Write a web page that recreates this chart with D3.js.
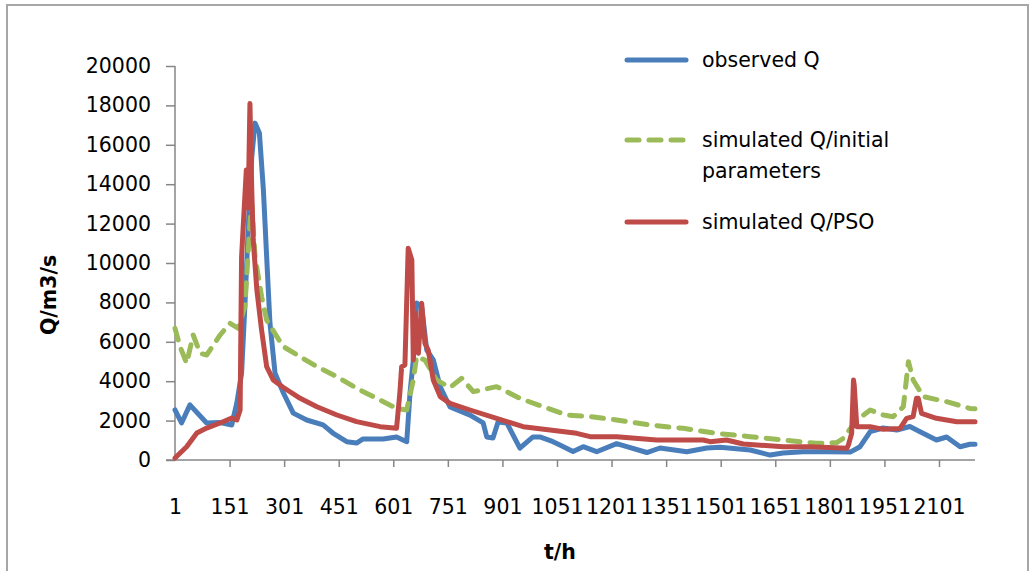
<!DOCTYPE html>
<html>
<head>
<meta charset="utf-8">
<script src="https://cdn.jsdelivr.net/npm/d3@7"></script>
<style>
  body { margin: 0; background: #fff; }
  svg { display: block; font-family: "DejaVu Sans", sans-serif; }
  .axis path, .axis line { stroke: #868686; stroke-width: 1.5; }
  .axis text { font-family: "DejaVu Sans", sans-serif; font-size: 20.5px; fill: #000; }
</style>
</head>
<body>
<svg width="1030" height="571"></svg>
<script>
// tick labels on the category axis (every 150 h)
const xTickLabels = [1, 151, 301, 451, 601, 751, 901, 1051, 1201, 1351, 1501, 1651, 1801, 1951, 2101];
const yTicks = [0, 2000, 4000, 6000, 8000, 10000, 12000, 14000, 16000, 18000, 20000];
const seriesNames = ['observed Q', 'simulated Q/initial parameters', 'simulated Q/PSO'];

// [t (h), Q (m3/s)]
const observedQ = [
  [1,2540],[19,1880],[42,2800],[88,1880],[125,1900],[157,1780],[171,2900],[184,4400],[193,7770],
  [202,11670],[212,15380],[221,17100],[233,16600],[244,13700],[253,10300],[262,6950],[276,4400],
  [299,3400],[326,2380],[363,2030],[408,1780],[435,1370],[473,930],[500,860],[518,1070],[573,1070],
  [610,1170],[638,930],[647,3400],[656,5080],[665,7970],[679,7780],[693,5580],[711,5080],[730,3710],
  [757,2690],[812,2280],[848,1880],[858,1170],[875,1120],[889,1930],[913,1880],[949,600],[985,1170],
  [1004,1170],[1040,930],[1059,760],[1095,430],[1123,675],[1160,421],[1215,830],[1243,675],[1298,380],
  [1334,609],[1408,421],[1463,609],[1499,650],[1582,507],[1637,250],[1672,355],[1727,421],[1792,421],
  [1857,400],[1884,675],[1912,1437],[1947,1624],[1985,1523],[2021,1700],[2049,1437],[2094,1015],
  [2122,1167],[2159,675],[2186,800],[2200,800]
];

const simInitialQ = [
  [1,6685],[15,5750],[33,4908],[51,6345],[70,5415],[88,5330],[125,6345],[152,6940],[175,6685],
  [193,7780],[198,9300],[207,12015],[212,13000],[221,10320],[239,8290],[253,7100],[281,6260],
  [299,5753],[345,5245],[391,4737],[446,4230],[500,3640],[555,3130],[610,2620],[638,2538],
  [656,4060],[665,5245],[688,5076],[720,4060],[757,3680],[789,4146],[821,3468],[885,3722],
  [949,3130],[1013,2706],[1078,2284],[1142,2200],[1215,2030],[1307,1777],[1398,1607],[1490,1354],
  [1582,1184],[1673,1015],[1765,846],[1820,880],[1838,1100],[1875,2030],[1912,2538],[1948,2284],
  [1975,2200],[2003,2706],[2017,4990],[2030,4060],[2058,3215],[2122,2960],[2186,2620],[2200,2600]
];

const simPsoQ = [
  [1,100],[33,675],[61,1370],[88,1620],[125,1880],[157,2130],[171,2030],[180,2540],[184,10320],
  [191,12690],[197,14720],[202,12800],[207,18100],[212,13700],[216,11170],[226,8630],[239,6600],
  [253,4740],[271,4060],[299,3680],[345,3130],[391,2705],[446,2284],[500,1946],[565,1692],
  [610,1607],[619,3384],[624,4737],[633,4822],[642,10750],[652,10150],[656,5080],[661,7445],
  [670,5415],[679,7953],[688,5922],[697,5584],[711,4060],[730,3215],[757,2876],[812,2538],
  [885,2115],[958,1692],[1032,1523],[1105,1354],[1142,1184],[1215,1184],[1325,1015],[1453,1015],
  [1472,930],[1517,1015],[1563,812],[1673,677],[1747,677],[1848,592],[1852,761],[1861,1354],
  [1866,4060],[1868,3800],[1875,1692],[1912,1692],[1948,1557],[1994,1600],[2012,2115],[2030,2200],
  [2039,3130],[2044,3130],[2053,2370],[2094,2115],[2150,1946],[2200,1946]
];

const colors = ['#4a7ebb', '#9bbb59', '#be4b48'];

const svg = d3.select('svg');

// chart area frame
svg.append('rect')
    .attr('x', 7).attr('y', 5)
    .attr('width', 1021).attr('height', 580)
    .attr('fill', 'none')
    .attr('stroke', '#a6a6a6')
    .attr('stroke-width', 2);

const x = d3.scaleLinear().domain([1, 2200]).range([175, 975]);
const y = d3.scaleLinear().domain([0, 20000]).range([460, 66]);

// y axis
svg.append('g')
    .attr('class', 'axis')
    .attr('transform', 'translate(175,0)')
    .call(d3.axisLeft(y).tickValues(yTicks).tickFormat(d3.format('d'))
      .tickSize(9).tickPadding(15).tickSizeOuter(0))
    .call(g => g.select('.domain').attr('d', `M0,${y(20000)}V${y(0)}`));

// x axis line and ticks
svg.append('g')
    .attr('class', 'axis')
    .attr('transform', 'translate(0,460)')
    .call(d3.axisBottom(x).tickValues(xTickLabels.slice(1)).tickSize(7).tickFormat('').tickSizeOuter(0))
    .call(g => g.select('.domain').attr('d', `M166,0H${x(2200)}`));

// x tick labels
svg.append('g')
    .attr('class', 'axis')
    .attr('transform', 'translate(0,460)')
    .call(d3.axisBottom(x).tickValues(xTickLabels).tickFormat(d3.format('d'))
      .tickSize(0).tickPadding(39))
    .call(g => g.select('.domain').remove());

// axis titles
svg.append('text')
    .attr('transform', 'translate(56,295) rotate(-90)')
    .attr('text-anchor', 'middle')
    .attr('font-size', 20.5)
    .attr('font-weight', 'bold')
    .text('Q/m3/s');

svg.append('text')
    .attr('x', 560).attr('y', 559)
    .attr('text-anchor', 'middle')
    .attr('font-size', 20.5)
    .attr('font-weight', 'bold')
    .text('t/h');

const line = d3.line()
    .x(d => x(d[0]))
    .y(d => y(d[1]));

const series = [observedQ, simInitialQ, simPsoQ];
const dashes = [null, '12,10', null];

// draw order: observed, initial, PSO on top
svg.append('g')
  .selectAll('path')
  .data(series)
  .join('path')
    .attr('d', line)
    .attr('fill', 'none')
    .attr('stroke', (d, i) => colors[i])
    .attr('stroke-width', 5)
    .attr('stroke-linejoin', 'round')
    .attr('stroke-linecap', 'round')
    .attr('stroke-dasharray', (d, i) => dashes[i]);

// legend
const legendRows = [
  { y: 60, lines: ['observed Q'] },
  { y: 140, lines: ['simulated Q/initial', 'parameters'] },
  { y: 222, lines: ['simulated Q/PSO'] }
];

const legend = svg.append('g');
legendRows.forEach((r, i) => {
  legend.append('line')
      .attr('x1', 627).attr('x2', 686)
      .attr('y1', r.y).attr('y2', r.y)
      .attr('stroke', colors[i])
      .attr('stroke-width', 5)
      .attr('stroke-linecap', 'round')
      .attr('stroke-dasharray', dashes[i]);
  r.lines.forEach((t, j) => {
    legend.append('text')
        .attr('x', 702)
        .attr('y', r.y + j * 31)
        .attr('dy', '0.35em')
        .attr('font-size', 20.5)
        .text(t);
  });
});
</script>
</body>
</html>
